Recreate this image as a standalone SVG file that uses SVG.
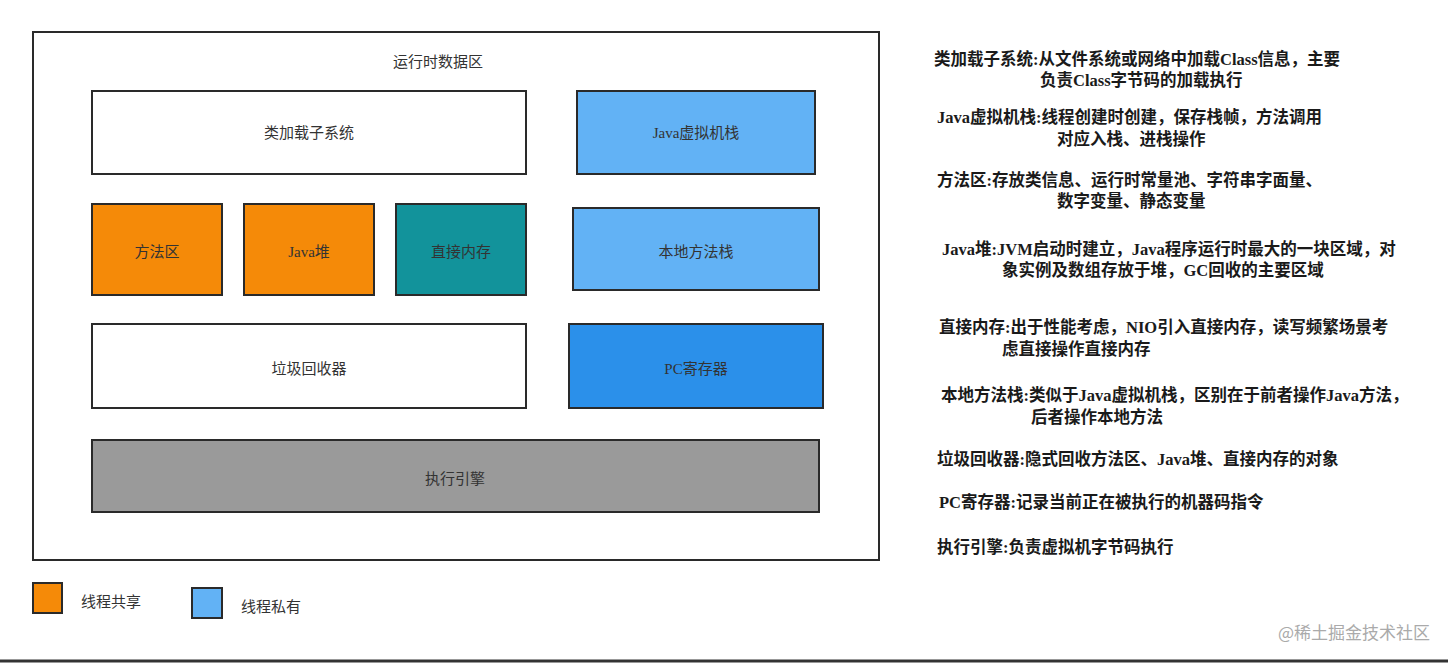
<svg xmlns="http://www.w3.org/2000/svg" width="1448" height="663" viewBox="0 0 1448 663">
<style>
.b{stroke:#2a2a2a;stroke-width:2}
.t{font-family:"Liberation Serif","Noto Sans CJK SC",serif;font-size:15px;fill:#333;text-anchor:middle;dominant-baseline:central}
.d{font-family:"Liberation Serif","Noto Sans CJK SC",serif;font-size:16.5px;fill:#1a1a1a;font-weight:bold}
</style>
<rect width="1448" height="663" fill="#fff"/>
<g id="runtime"><rect x="33" y="32" width="846" height="528" fill="#fff" class="b"/><text class="t" x="438" y="62">运行时数据区</text></g>
<g id="classloader"><rect x="92" y="91" width="434" height="83" fill="#fff" class="b"/><text class="t" x="309" y="133">类加载子系统</text></g>
<g id="jvmstack"><rect x="577" y="91" width="238" height="83" fill="#62b2f5" class="b"/><text class="t" x="696" y="133">Java虚拟机栈</text></g>
<g id="method"><rect x="92" y="204" width="130" height="91" fill="#f58a08" class="b"/><text class="t" x="157" y="252">方法区</text></g>
<g id="heap"><rect x="244" y="204" width="130" height="91" fill="#f58a08" class="b"/><text class="t" x="309" y="252">Java堆</text></g>
<g id="direct"><rect x="396" y="204" width="130" height="91" fill="#12939b" class="b"/><text class="t" x="461" y="252">直接内存</text></g>
<g id="native"><rect x="573" y="208" width="246" height="82" fill="#62b2f5" class="b"/><text class="t" x="696" y="252">本地方法栈</text></g>
<g id="gc"><rect x="92" y="324" width="434" height="84" fill="#fff" class="b"/><text class="t" x="309" y="369">垃圾回收器</text></g>
<g id="pc"><rect x="569" y="324" width="254" height="84" fill="#2b90ea" class="b"/><text class="t" x="696" y="369">PC寄存器</text></g>
<g id="engine"><rect x="92" y="440" width="727" height="72" fill="#9a9a9a" class="b"/><text class="t" x="455" y="479">执行引擎</text></g>
<g id="legend">
<rect x="33" y="583" width="29" height="30" fill="#f58a08" class="b"/><text class="t" x="111" y="602">线程共享</text>
<rect x="192" y="588" width="30" height="30" fill="#62b2f5" class="b"/><text class="t" x="271" y="607">线程私有</text>
</g>
<g id="desc">
<text class="d" x="934" y="65">类加载子系统:从文件系统或网络中加载Class信息，主要</text>
<text class="d" x="1040" y="86">负责Class字节码的加载执行</text>
<text class="d" x="937" y="123">Java虚拟机栈:线程创建时创建，保存栈帧，方法调用</text>
<text class="d" x="1057" y="145">对应入栈、进栈操作</text>
<text class="d" x="937" y="186">方法区:存放类信息、运行时常量池、字符串字面量、</text>
<text class="d" x="1057" y="207">数字变量、静态变量</text>
<text class="d" x="942" y="255">Java堆:JVM启动时建立，Java程序运行时最大的一块区域，对</text>
<text class="d" x="1002" y="276">象实例及数组存放于堆，GC回收的主要区域</text>
<text class="d" x="939" y="333">直接内存:出于性能考虑，NIO引入直接内存，读写频繁场景考</text>
<text class="d" x="1002" y="355">虑直接操作直接内存</text>
<text class="d" x="941" y="401">本地方法栈:类似于Java虚拟机栈，区别在于前者操作Java方法，</text>
<text class="d" x="1031" y="423">后者操作本地方法</text>
<text class="d" x="937" y="465">垃圾回收器:隐式回收方法区、Java堆、直接内存的对象</text>
<text class="d" x="939" y="508">PC寄存器:记录当前正在被执行的机器码指令</text>
<text class="d" x="937" y="553">执行引擎:负责虚拟机字节码执行</text>
</g>
<text x="1430" y="639" text-anchor="end" style="font-family:'Noto Sans CJK SC',sans-serif;font-size:17px;fill:#aaa">@稀土掘金技术社区</text>
<line x1="0" y1="661" x2="1448" y2="661" stroke="#333" stroke-width="3"/>
</svg>
